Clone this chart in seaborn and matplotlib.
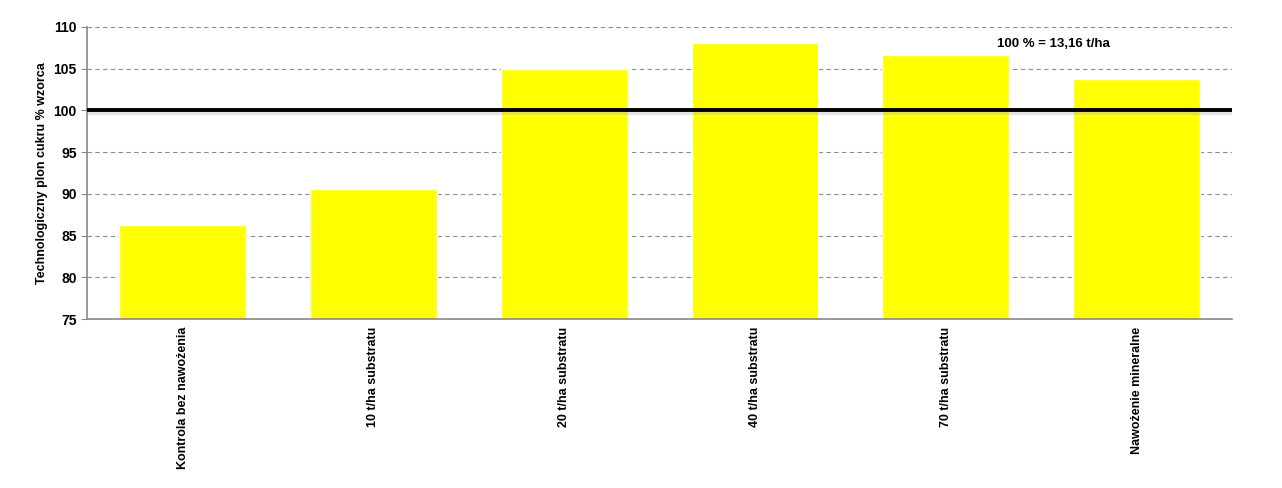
import numpy as np
import pandas as pd
import matplotlib
matplotlib.use("Agg")
import matplotlib.pyplot as plt
import matplotlib.patheffects as pe
import seaborn as sns

categories = ["Kontrola bez nawożenia", "10 t/ha substratu", "20 t/ha substratu",
              "40 t/ha substratu", "70 t/ha substratu", "Nawożenie mineralne"]
values = [86.3, 90.6, 105.0, 108.1, 106.6, 103.8]
y_ticks = [75, 80, 85, 90, 95, 100, 105, 110]
reference = 100
note = "100 % = 13,16 t/ha"

df = pd.DataFrame({"wariant": categories, "plon": values})

sns.set_style("white")
plt.rcParams["font.family"] = ["Liberation Sans", "DejaVu Sans"]
plt.rcParams["text.color"] = "black"
plt.rcParams["axes.labelcolor"] = "black"
plt.rcParams["xtick.color"] = "black"
plt.rcParams["ytick.color"] = "black"

fig = plt.figure(figsize=(12.82, 4.88), dpi=100)
ax = fig.add_axes([0.068, 0.346, 0.893, 0.599])

sns.barplot(data=df, x="wariant", y="plon", color="#FFFF00", saturation=1,
            width=0.665, ax=ax, zorder=2)

ax.set_ylim(75, 110)
ax.set_yticks(y_ticks)
ax.set_xlim(-0.5, len(categories) - 0.5)
ax.yaxis.grid(True, linestyle=(0, (4, 3)), color="#8c8c8c", linewidth=0.8, zorder=0)
ax.set_axisbelow(True)

# linia wzorca 100 % z lekkim cieniem
ax.axhline(reference, color="black", linewidth=2.8, zorder=3,
           path_effects=[pe.SimpleLineShadow(offset=(0, -2), shadow_color="#b0b0b0", alpha=0.35),
                         pe.Normal()])

for s in ["top", "right"]:
    ax.spines[s].set_visible(False)
for s in ["left", "bottom"]:
    ax.spines[s].set_color("#888888")
    ax.spines[s].set_linewidth(1.2)

ax.tick_params(axis="y", left=True, length=4, color="#888888", labelcolor="black", labelsize=10)
ax.set_xticks(range(len(categories)))
ax.set_xticklabels(categories, rotation=90, fontweight="bold")
ax.tick_params(axis="x", bottom=False, labelsize=9, labelcolor="black", pad=2)
for lbl in ax.get_yticklabels():
    lbl.set_fontweight("bold")

ax.set_xlabel("")
ax.set_ylabel("Technologiczny plon cukru % wzorca", fontsize=9, fontweight="bold", labelpad=4)

ax.text(4.27, 108.0, note, fontsize=9.5, fontweight="bold", va="center", ha="left", zorder=4)

fig.savefig("out.png", dpi=100)
